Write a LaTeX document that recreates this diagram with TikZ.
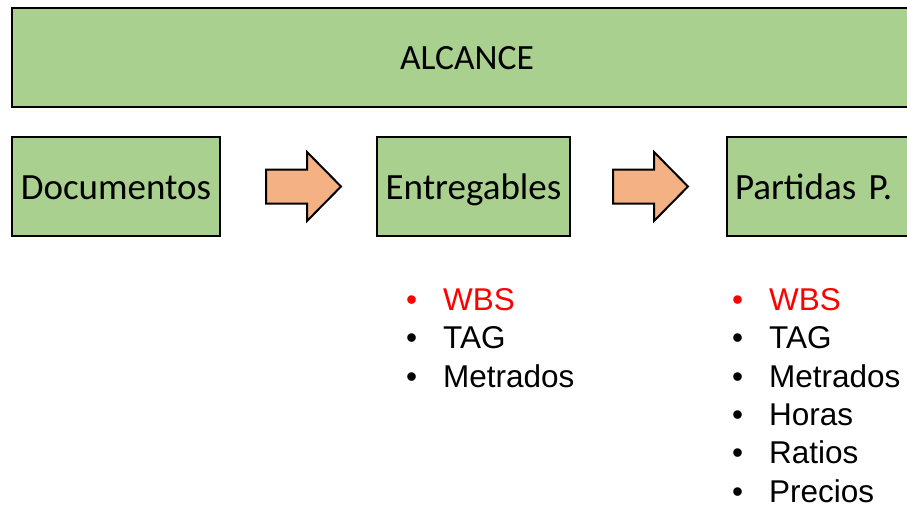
\documentclass[tikz,border=0pt]{standalone}
\usepackage{fontspec}
\setmainfont{Carlito}
\newfontfamily\arial{Liberation Sans}
\usetikzlibrary{positioning}

\definecolor{verde}{HTML}{A9D08E}
\definecolor{naranja}{HTML}{F4B183}
\newcommand{\punto}{\makebox[37pt][l]{\textbullet}}

\begin{document}
\begin{tikzpicture}[x=1pt, y=-1pt,
		caja/.style={rectangle, draw=black, fill=verde, line width=2pt, inner sep=0pt, minimum height=99pt, text height=29pt, text depth=3pt, font=\fontsize{37}{40}\selectfont},
		flecha/.style={draw=black, fill=naranja, line width=2pt, line join=miter},
		lista/.style={inner sep=0pt, anchor=base west, font=\arial\fontsize{31.5}{38.3}\selectfont}
		]
		\clip (0,0) rectangle (907,504);
		\node [caja, minimum width=910pt, text height=27pt, font=\fontsize{35.5}{40}\selectfont] (alcance) at (467,57.5) {ALCANCE};
		\node [caja, minimum width=208pt] (docs) [below right=28pt and 0pt of alcance.south west] {Documentos};
		\node [caja, minimum width=193pt] (entreg) [right=155pt of docs] {Entregables};
		\node [caja, text width=182pt, inner xsep=8pt, align=left] (partidas) [right=155pt of entreg] {Partidas P.};
		
		% flechas de bloque entre las cajas
		\coordinate (flecha1) at ([xshift=45pt]docs.east);
		\coordinate (flecha2) at ([xshift=42pt]entreg.east);
		\foreach \f in {flecha1, flecha2}
			\draw [flecha] (\f) ++(0,-17) -- ++(41,0) -- ++(0,-17.5) -- ++(34,34.5) -- ++(-34,34.5) -- ++(0,-17.5) -- ++(-41,0) -- cycle;
		
		\node [lista] (lista1) at ([shift={(30,73.5)}]entreg.south west) {%
			\begin{tabular}[t]{@{}l@{}}
				{\color{red}\punto WBS}\\
				\punto TAG\\
				\punto Metrados
			\end{tabular}};
		\node [lista] (lista2) at ([shift={(6,73.5)}]partidas.south west) {%
			\begin{tabular}[t]{@{}l@{}}
				{\color{red}\punto WBS}\\
				\punto TAG\\
				\punto Metrados\\
				\punto Horas\\
				\punto Ratios\\
				\punto Precios
			\end{tabular}};
	\end{tikzpicture}
\end{document}
